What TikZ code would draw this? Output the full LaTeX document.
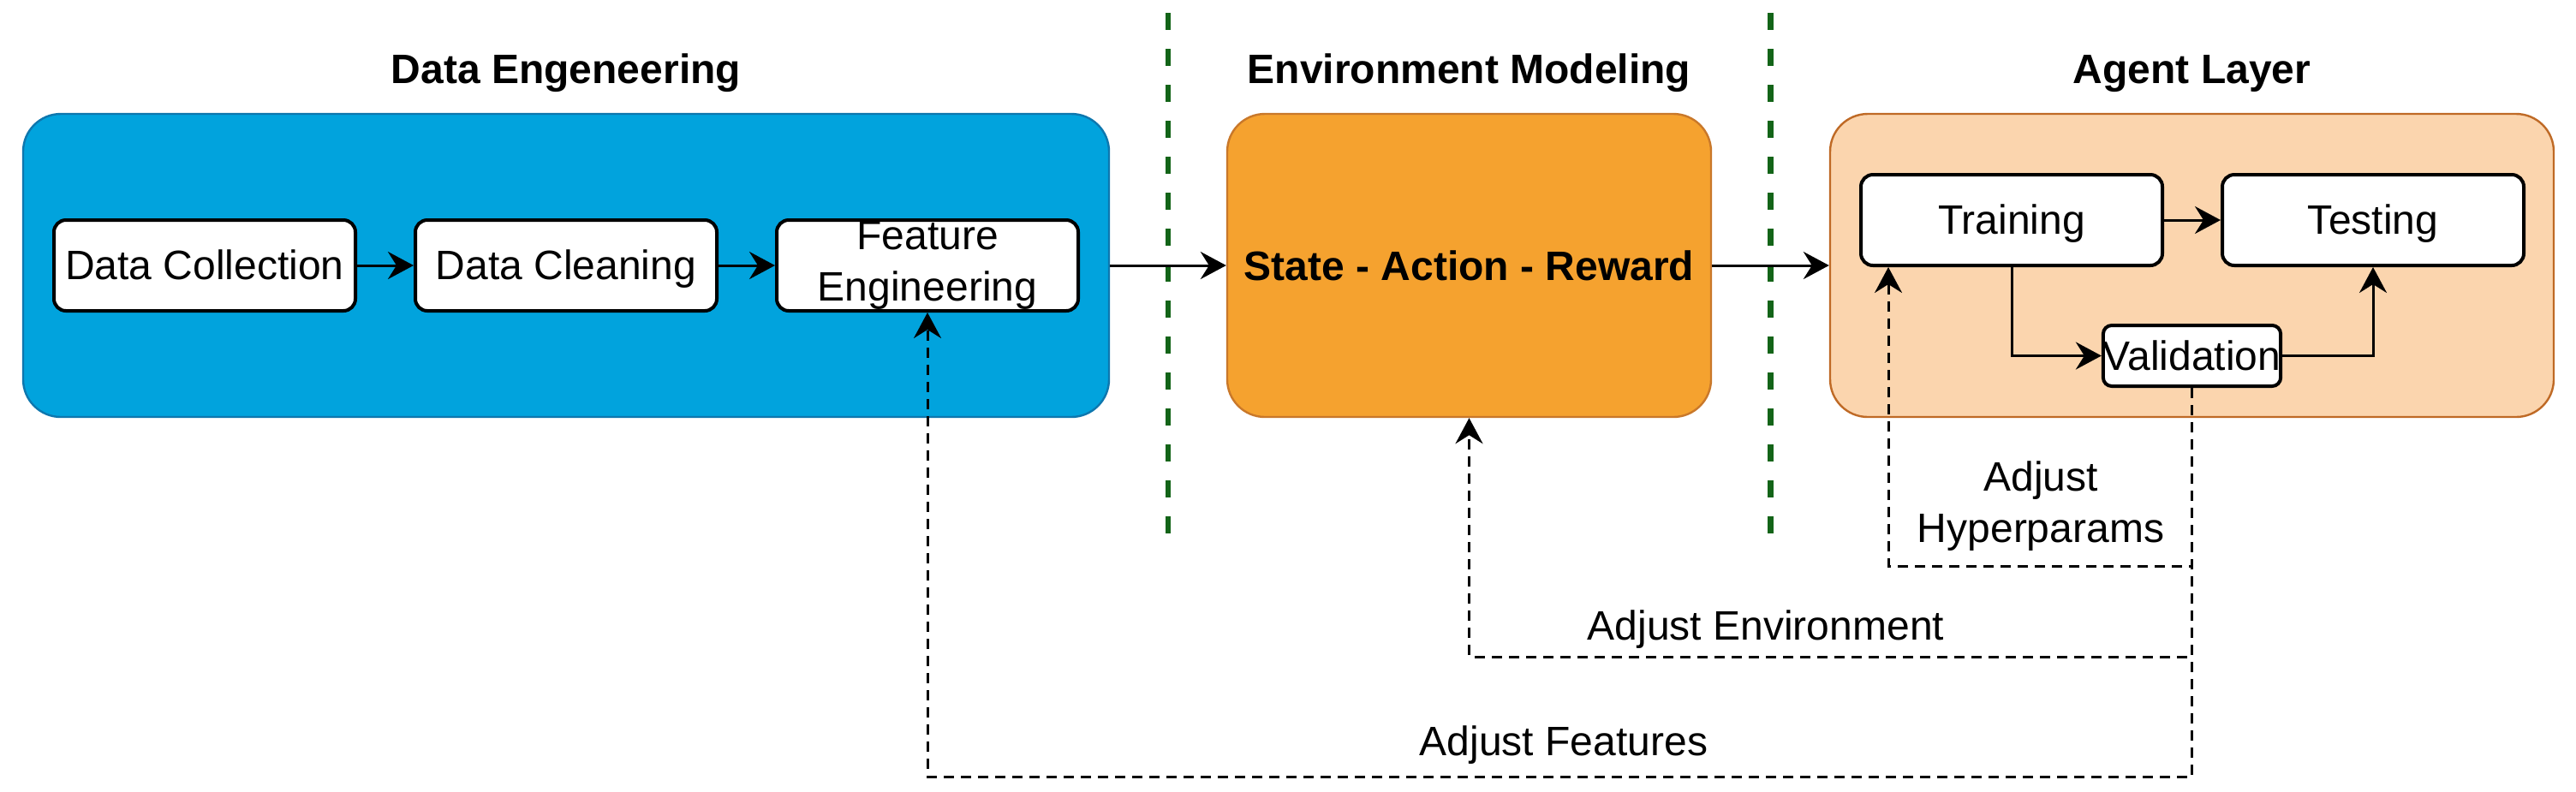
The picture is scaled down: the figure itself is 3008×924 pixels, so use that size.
\documentclass[tikz,border=0pt]{standalone}
\usepackage{fontspec}
\setmainfont{Liberation Sans}
\usetikzlibrary{arrows.meta,positioning,calc}

\definecolor{deblue}{HTML}{01A3DD}
\definecolor{deline}{HTML}{0E77AE}
\definecolor{envorange}{HTML}{F5A22F}
\definecolor{envline}{HTML}{C9782A}
\definecolor{agpeach}{HTML}{FBD5AE}
\definecolor{agline}{HTML}{BF6A26}
\definecolor{sepgreen}{HTML}{136418}

\tikzset{
  layer/.style={draw=#1, line width=0.6pt, rounded corners=11pt, minimum height=88.5pt, inner sep=0pt},
  stage/.style={draw, fill=white, line width=1pt, rounded corners=3.5pt, minimum width=88pt, minimum height=26.5pt, inner sep=0pt, align=center},
  oneline/.style={text height=10.86pt, text depth=2.54pt},
  title/.style={font=\fontsize{12}{15}\selectfont\bfseries},
  flow/.style={->, line width=0.75pt},
  fb/.style={->, line width=0.75pt, dash pattern=on 3pt off 2pt},
  sep/.style={sepgreen, line width=1.6pt, dash pattern=on 5pt off 5.5pt}
}

\begin{document}
\begin{tikzpicture}[x=0.25pt, y=-0.25pt, node distance=105.5pt, on grid, font=\fontsize{12}{15}\selectfont, >={Stealth[length=7.5pt,width=8pt,inset=2.5pt]}]
   \useasboundingbox (0,0) rectangle (3008,924);
   % layers
   \node[layer=deline, fill=deblue, minimum width=317pt] (de) at (661,310) {};
   \node[layer=envline, fill=envorange, minimum width=141.25pt, title] (env) at (1715.5,310) {State - Action - Reward};
   \node[layer=agline, fill=agpeach, minimum width=211.25pt] (ag) at (2559.5,310) {};
   % titles
   \coordinate (ttl) at (0,97);
   \node[title, anchor=base] (tde) at (de |- ttl) {Data Engeneering};
   \node[title, anchor=base] (tenv) at (env |- ttl) {Environment Modeling};
   \node[title, anchor=base] (tag) at (ag |- ttl) {Agent Layer};
   % separators
   \coordinate (top) at (0,15);
   \coordinate (bot) at (0,623);
   \coordinate (s1) at ($(de.east)!0.5!(env.west)$);
   \coordinate (s2) at ($(env.east)!0.5!(ag.west)$);
   \draw[sep] (s1 |- top) -- (s1 |- bot);
   \draw[sep] (s2 |- top) -- (s2 |- bot);
   % stages
   \node[stage, oneline] (dc) at (239,310) {Data Collection};
   \node[stage, oneline] (dcl) [right=of dc] {Data Cleaning};
   \node[stage] (fe) [right=of dcl] {Feature\\Engineering};
   \node[stage, oneline] (train) at (2349,257) {Training};
   \node[stage, oneline] (test) [right=of train] {Testing};
   \node[stage, oneline, rounded corners=2.5pt, minimum width=51.25pt, minimum height=17.75pt] (val) at (2559.5,415.5) {Validation};
   \path[flow]
    (dc) edge (dcl)
    (dcl) edge (fe)
    (de) edge (env)
    (env) edge (ag)
    (train) edge (test);
   \draw[flow] (train.south) |- (val.west);
   \draw[flow] (val.east) -| (test.south);
   % feedback
   \coordinate (yhp) at (0,661);
   \coordinate (yev) at (0,767);
   \coordinate (yfe) at (0,907);
   \coordinate (hp) at ([xshift=8.5pt]train.south west);
   \draw[fb] (val.south) |- (hp |- yhp) -- (hp);
   \draw[fb] (val.south) |- (env.south |- yev) -- (env.south);
   \draw[fb] (val.south) |- (fe.south |- yfe) -- (fe.south);
   \node[align=center] (lhp) at (2383,591) {Adjust\\Hyperparams};
   \node (lev) at (2062,735) {Adjust Environment};
   \node (lfe) at (1826,870) {Adjust Features};
\end{tikzpicture}
\end{document}
